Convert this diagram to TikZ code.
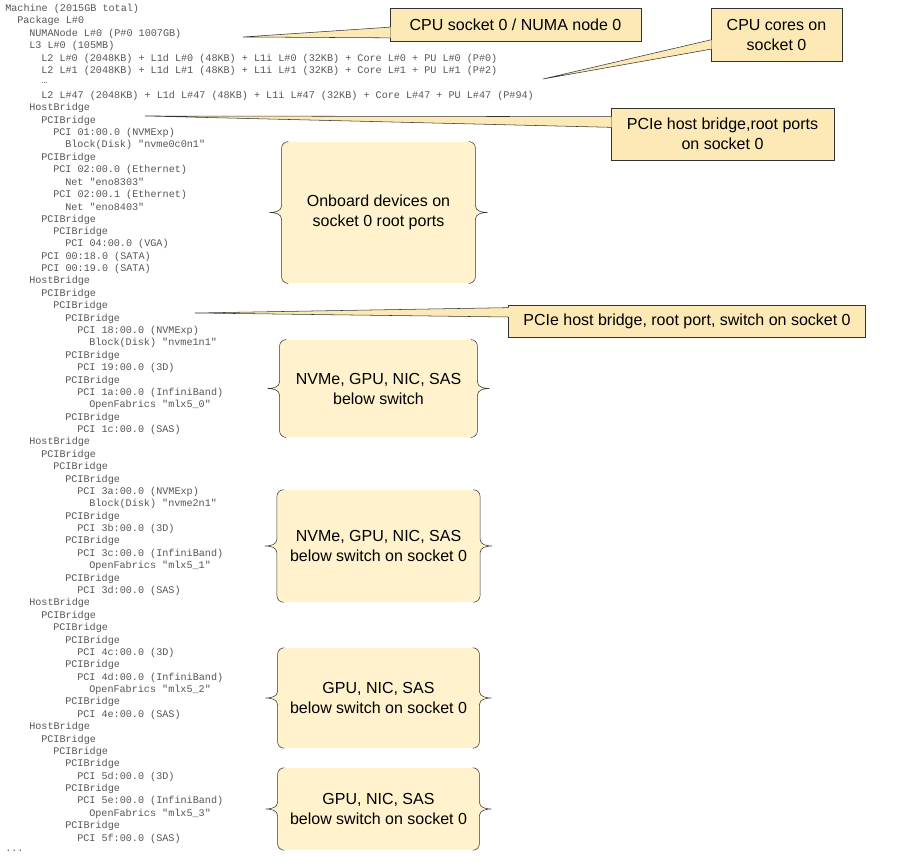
\documentclass[tikz,border=0pt]{standalone}
\usepackage{fontspec}
\setmainfont{Liberation Sans}
\setmonofont{Liberation Mono}
\usetikzlibrary{calc}
\definecolor{callfill}{HTML}{FCE9B6}
\definecolor{bracefill}{HTML}{FFF2CC}
\definecolor{callline}{HTML}{333333}
\definecolor{listtext}{HTML}{555555}

\tikzset{
  listing/.style={anchor=west, inner sep=0pt, text=listtext,
                  font=\ttfamily\fontsize{7.6}{8}\selectfont},
  callout/.style={rectangle, fill=callfill, draw=callline, align=center,
                  font=\fontsize{12}{15}\selectfont},
  bracebox/.style={rectangle, fill=bracefill, rounded corners=5pt, align=center,
                   font=\fontsize{12}{15}\selectfont}
}

% wedge from a callout box to its tip
\newcommand{\pointer}[4]{%
  \fill[callfill] (#2) -- ([yshift=#3, xshift=0.6pt]#1.west) -- ([yshift=#4, xshift=0.6pt]#1.west) -- cycle;
  \draw[callline] ([yshift=#3]#1.west) -- (#2) -- ([yshift=#4]#1.west);}

% curly sides of a brace box
\newcommand{\curlysides}[1]{%
  \path[fill=bracefill, draw=callline]
    ([xshift=5pt]#1.north west) to[out=180, in=90] ([yshift=-5pt]#1.north west)
    -- ([yshift=5pt]#1.west) to[out=-90, in=0] ([xshift=-9pt]#1.west)
    to[out=0, in=90] ([yshift=-5pt]#1.west)
    -- ([yshift=5pt]#1.south west) to[out=-90, in=180] ([xshift=5pt]#1.south west);
  \path[fill=bracefill, draw=callline]
    ([xshift=-5pt]#1.north east) to[out=0, in=90] ([yshift=-5pt]#1.north east)
    -- ([yshift=5pt]#1.east) to[out=-90, in=180] ([xshift=9pt]#1.east)
    to[out=180, in=90] ([yshift=-5pt]#1.east)
    -- ([yshift=5pt]#1.south east) to[out=-90, in=0] ([xshift=-5pt]#1.south east);}

\begin{document}
\begin{tikzpicture}[x=0.75pt, y=-0.75pt]
  \useasboundingbox (0,0) rectangle (907,862);

  % hwloc listing
  \foreach \lvl/\txt [count=\i from 0] in {
    0/Machine (2015GB total),
    1/Package L\#0,
    2/NUMANode L\#0 (P\#0 1007GB),
    2/L3 L\#0 (105MB),
    3/L2 L\#0 (2048KB) + L1d L\#0 (48KB) + L1i L\#0 (32KB) + Core L\#0 + PU L\#0 (P\#0),
    3/L2 L\#1 (2048KB) + L1d L\#1 (48KB) + L1i L\#1 (32KB) + Core L\#1 + PU L\#1 (P\#2),
    3/…,
    3/L2 L\#47 (2048KB) + L1d L\#47 (48KB) + L1i L\#47 (32KB) + Core L\#47 + PU L\#47 (P\#94),
    2/HostBridge,
    3/PCIBridge,
    4/PCI 01:00.0 (NVMExp),
    5/Block(Disk) "nvme0c0n1",
    3/PCIBridge,
    4/PCI 02:00.0 (Ethernet),
    5/Net "eno8303",
    4/PCI 02:00.1 (Ethernet),
    5/Net "eno8403",
    3/PCIBridge,
    4/PCIBridge,
    5/PCI 04:00.0 (VGA),
    3/PCI 00:18.0 (SATA),
    3/PCI 00:19.0 (SATA),
    2/HostBridge,
    3/PCIBridge,
    4/PCIBridge,
    5/PCIBridge,
    6/PCI 18:00.0 (NVMExp),
    7/Block(Disk) "nvme1n1",
    5/PCIBridge,
    6/PCI 19:00.0 (3D),
    5/PCIBridge,
    6/PCI 1a:00.0 (InfiniBand),
    7/OpenFabrics "mlx5\_0",
    5/PCIBridge,
    6/PCI 1c:00.0 (SAS),
    2/HostBridge,
    3/PCIBridge,
    4/PCIBridge,
    5/PCIBridge,
    6/PCI 3a:00.0 (NVMExp),
    7/Block(Disk) "nvme2n1",
    5/PCIBridge,
    6/PCI 3b:00.0 (3D),
    5/PCIBridge,
    6/PCI 3c:00.0 (InfiniBand),
    7/OpenFabrics "mlx5\_1",
    5/PCIBridge,
    6/PCI 3d:00.0 (SAS),
    2/HostBridge,
    3/PCIBridge,
    4/PCIBridge,
    5/PCIBridge,
    6/PCI 4c:00.0 (3D),
    5/PCIBridge,
    6/PCI 4d:00.0 (InfiniBand),
    7/OpenFabrics "mlx5\_2",
    5/PCIBridge,
    6/PCI 4e:00.0 (SAS),
    2/HostBridge,
    3/PCIBridge,
    4/PCIBridge,
    5/PCIBridge,
    6/PCI 5d:00.0 (3D),
    5/PCIBridge,
    6/PCI 5e:00.0 (InfiniBand),
    7/OpenFabrics "mlx5\_3",
    5/PCIBridge,
    6/PCI 5f:00.0 (SAS),
    0/{.{}.{}.}}
    \node[listing] (line\i) at (5+\lvl*12, 9+\i*12.38) {\txt};

  % callouts
  \node[callout, minimum width=188pt, minimum height=25pt] (numa) at (515.5,24.5) {CPU socket 0 / NUMA node 0};
  \node[callout, minimum width=98pt, minimum height=40pt] (cores) at (776.5,34.5) {CPU cores on\\socket 0};
  \node[callout, minimum width=167pt, minimum height=39pt] (rootports) at (722.5,134) {PCIe host bridge,root ports\\on socket 0};
  \node[callout, minimum width=268pt, minimum height=24pt] (switch) at (687,321) {PCIe host bridge, root port, switch on socket 0};

  \coordinate (numatip) at (243,37);
  \coordinate (corestip) at (543,79);
  \coordinate (roottip) at (145,116);
  \coordinate (switchtip) at (195,313);
  \pointer{numa}{numatip}{-2pt}{-10pt}
  \pointer{cores}{corestip}{-4pt}{-11pt}
  \pointer{rootports}{roottip}{13pt}{5pt}
  \pointer{switch}{switchtip}{10pt}{3pt}

  % brace boxes
  \node[bracebox, minimum width=145pt, minimum height=106pt] (onboard) at (378.5,212.5) {Onboard devices on\\socket 0 root ports};
  \node[bracebox, minimum width=148pt, minimum height=73pt] (sw0) at (378.5,388.5) {NVMe, GPU, NIC, SAS\\below switch};
  \node[bracebox, minimum width=152pt, minimum height=84pt] (sw1) at (378.5,546) {NVMe, GPU, NIC, SAS\\below switch on socket 0};
  \node[bracebox, minimum width=151pt, minimum height=75pt] (sw2) at (378.5,698) {GPU, NIC, SAS\\below switch on socket 0};
  \node[bracebox, minimum width=151pt, minimum height=61.5pt] (sw3) at (378.5,809) {GPU, NIC, SAS\\below switch on socket 0};
  \curlysides{onboard}
  \curlysides{sw0}
  \curlysides{sw1}
  \curlysides{sw2}
  \curlysides{sw3}
\end{tikzpicture}
\end{document}
